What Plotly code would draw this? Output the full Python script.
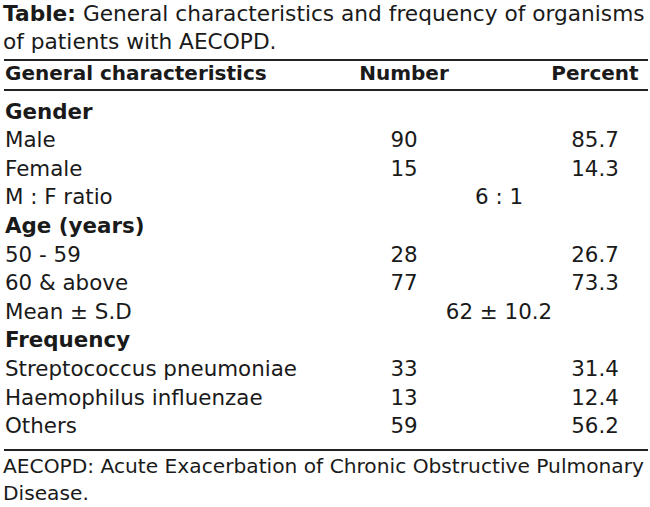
import plotly.graph_objects as go

# ---- data ----
title_lines = ["<b>Table:</b> General characteristics and frequency of organisms",
               "of patients with AECOPD."]
headers = ["General characteristics", "Number", "Percent"]
labels = ["Gender", "Male", "Female", "M : F ratio", "Age (years)", "50 - 59",
          "60 & above", "Mean ± S.D", "Frequency", "Streptococcus pneumoniae",
          "Haemophilus influenzae", "Others"]
group_rows = ["Gender", "Age (years)", "Frequency"]
numbers = [None, 90, 15, None, None, 28, 77, None, None, 33, 13, 59]
percents = [None, 85.7, 14.3, None, None, 26.7, 73.3, None, None, 31.4, 12.4, 56.2]
merged = [None, None, None, "6 : 1", None, None, None, "62 ± 10.2", None, None, None, None]
footnote_lines = ["AECOPD: Acute Exacerbation of Chronic Obstructive Pulmonary",
                  "Disease."]

# ---- layout parameters ----
W, H = 650, 507
FONT = "DejaVu Sans"
body_size = 21.4
title_size = 21.7
foot_size = 20.2
head_size = 20
x_left = 5
x_num = 404
x_pct = 595
x_mid = 499
first_base = 118
row_step = 28.6
text_color = "#1a1a1a"


def mid(baseline, size):
    return baseline - 0.36 * size + 3


fig = go.Figure()

# title
title_base = [20, 48]
fig.add_trace(go.Scatter(
    x=[3] * len(title_lines), y=[mid(b, title_size) for b in title_base],
    mode="text", text=title_lines, textposition="middle right",
    textfont=dict(family=FONT, size=title_size, color=text_color),
    hoverinfo="skip", showlegend=False))

# header
hb = 79
fig.add_trace(go.Scatter(
    x=[x_left, x_num, x_pct], y=[mid(hb, head_size)] * 3,
    mode="text", text=["<b>%s</b>" % h for h in headers],
    textposition=["middle right", "middle center", "middle center"],
    textfont=dict(family=FONT, size=head_size, color=text_color),
    hoverinfo="skip", showlegend=False))

row_y = [mid(first_base + i * row_step, body_size) for i in range(len(labels))]

# labels
fig.add_trace(go.Scatter(
    x=[x_left] * len(labels), y=row_y, mode="text",
    text=["<b>%s</b>" % l if l in group_rows else l for l in labels],
    textposition="middle right",
    textfont=dict(family=FONT, size=body_size, color=text_color),
    hoverinfo="skip", showlegend=False))

# numbers
ni = [i for i, v in enumerate(numbers) if v is not None]
fig.add_trace(go.Scatter(
    x=[x_num] * len(ni), y=[row_y[i] for i in ni], mode="text",
    text=[str(numbers[i]) for i in ni], textposition="middle center",
    textfont=dict(family=FONT, size=body_size, color=text_color),
    hoverinfo="skip", showlegend=False))

# percents
pi = [i for i, v in enumerate(percents) if v is not None]
fig.add_trace(go.Scatter(
    x=[x_pct] * len(pi), y=[row_y[i] for i in pi], mode="text",
    text=["%.1f" % percents[i] for i in pi], textposition="middle center",
    textfont=dict(family=FONT, size=body_size, color=text_color),
    hoverinfo="skip", showlegend=False))

# merged cells
mi = [i for i, v in enumerate(merged) if v is not None]
fig.add_trace(go.Scatter(
    x=[x_mid] * len(mi), y=[row_y[i] for i in mi], mode="text",
    text=[merged[i] for i in mi], textposition="middle center",
    textfont=dict(family=FONT, size=body_size, color=text_color),
    hoverinfo="skip", showlegend=False))

# footnote
foot_base = [472, 499]
fig.add_trace(go.Scatter(
    x=[3] * len(footnote_lines), y=[mid(b, foot_size) for b in foot_base],
    mode="text", text=footnote_lines, textposition="middle right",
    textfont=dict(family=FONT, size=foot_size, color=text_color),
    hoverinfo="skip", showlegend=False))

# rules
for yy in [60, 90, 450]:
    fig.add_shape(type="line", xref="x", yref="y", x0=4, x1=648, y0=yy, y1=yy,
                  line=dict(color="#222222", width=2.2))

fig.update_layout(
    width=W, height=H, margin=dict(l=0, r=0, t=0, b=0),
    paper_bgcolor="white", plot_bgcolor="white",
    xaxis=dict(range=[0, W], visible=False, fixedrange=True),
    yaxis=dict(range=[H, 0], visible=False, fixedrange=True),
    showlegend=False,
)

fig.write_html("out.html", config={"displayModeBar": False},
               post_script="document.body.style.margin='0';"
                           "document.body.style.overflow='hidden';")
